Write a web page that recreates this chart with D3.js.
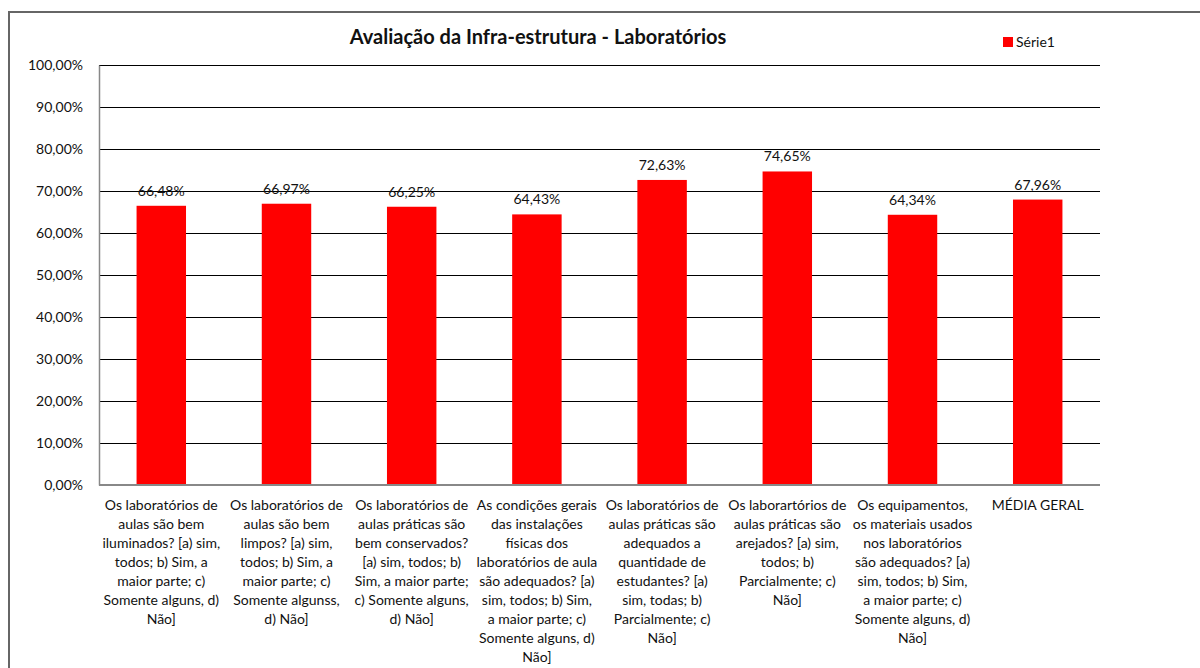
<!DOCTYPE html>
<html>
<head>
<meta charset="utf-8">
<script src="https://cdn.jsdelivr.net/npm/d3@7"></script>
<style>
  body { margin: 0; background: #fff; }
  text { font-family: Lato, "Open Sans", sans-serif; fill: #111; }
</style>
</head>
<body>
<div id="chart"></div>
<script>
// Data
var categories = [
    ["Os laboratórios de", "aulas são bem", "iluminados? [a) sim,", "todos; b) Sim,  a", "maior parte; c)", "Somente alguns, d)", "Não]"],
    ["Os laboratórios de", "aulas são bem", "limpos? [a) sim,", "todos; b) Sim,  a", "maior parte; c)", "Somente algunss,", "d) Não]"],
    ["Os laboratórios de", "aulas práticas são", "bem conservados?", "[a) sim, todos; b)", "Sim, a maior parte;", "c) Somente alguns,", "d) Não]"],
    ["As condições gerais", "das instalações", "físicas dos", "laboratórios de aula", "são adequados? [a)", "sim, todos;  b) Sim,", "a maior  parte; c)", "Somente alguns, d)", "Não]"],
    ["Os laboratórios de", "aulas práticas são", "adequados a", "quantidade de", "estudantes? [a)", "sim, todas;  b)", "Parcialmente; c)", "Não]"],
    ["Os laborartórios de", "aulas práticas são", "arejados? [a) sim,", "todos; b)", "Parcialmente; c)", "Não]"],
    ["Os equipamentos,", "os materiais  usados", "nos laboratórios", "são adequados? [a)", "sim, todos;  b) Sim,", "a maior  parte; c)", "Somente alguns, d)", "Não]"],
    ["MÉDIA GERAL"]
];
var values = [66.48, 66.97, 66.25, 64.43, 72.63, 74.65, 64.34, 67.96];
var yTicks = [0, 10, 20, 30, 40, 50, 60, 70, 80, 90, 100];
var seriesName = "Série1";
var title = "Avaliação da Infra-estrutura - Laboratórios";

var width = 1200, height = 668;
var margin = { left: 99, right: 100, top: 65, bottom: 183 };

var svg = d3.select("#chart").append("svg")
    .attr("width", width)
    .attr("height", height);

// Outer frame (right and bottom edges fall outside the picture)
svg.append("rect")
    .attr("x", 9).attr("y", 12)
    .attr("width", 1210).attr("height", 700)
    .attr("fill", "none")
    .attr("stroke", "#666")
    .attr("stroke-width", 2);

var x = d3.scaleBand()
    .domain(d3.range(values.length))
    .range([margin.left, width - margin.right])
    .paddingInner(0.605)
    .paddingOuter(0.3);

var y = d3.scaleLinear()
    .domain([0, 100])
    .range([height - margin.bottom, margin.top]);

function pct(v) {
    return d3.format(".2f")(v).replace(".", ",") + "%";
}

// Gridlines
svg.append("g")
    .selectAll("line")
    .data(yTicks.filter(d => d > 0))
    .enter()
    .append("line")
    .attr("x1", margin.left)
    .attr("x2", width - margin.right)
    .attr("y1", d => Math.round(y(d)) + 0.5)
    .attr("y2", d => Math.round(y(d)) + 0.5)
    .attr("stroke", "#000")
    .attr("stroke-width", 1);

// Y axis
var yAxis = svg.append("g")
    .attr("transform", "translate(" + margin.left + ",0)")
    .call(d3.axisLeft(y).tickValues(yTicks).tickSize(0).tickPadding(16).tickFormat(pct));
yAxis.select(".domain").attr("stroke", "#888").attr("stroke-width", 1.5);
yAxis.selectAll("text").style("font-size", "14px").attr("fill", "#111");

// Bars
svg.append("g")
    .selectAll("rect")
    .data(values)
    .enter()
    .append("rect")
    .attr("x", (d, i) => x(i))
    .attr("y", d => y(d))
    .attr("width", x.bandwidth())
    .attr("height", d => y(0) - y(d))
    .attr("fill", "#ff0000");

// Value labels
svg.append("g")
    .selectAll("text")
    .data(values)
    .enter()
    .append("text")
    .attr("x", (d, i) => x(i) + x.bandwidth() / 2)
    .attr("y", d => y(d) - 10)
    .attr("text-anchor", "middle")
    .style("font-size", "14px")
    .text(d => pct(d));

// X axis baseline
svg.append("line")
    .attr("x1", margin.left)
    .attr("x2", width - margin.right)
    .attr("y1", y(0))
    .attr("y2", y(0))
    .attr("stroke", "#888")
    .attr("stroke-width", 2);

// Category labels
svg.append("g")
    .selectAll("text")
    .data(categories)
    .enter()
    .append("text")
    .attr("text-anchor", "middle")
    .style("font-size", "14px")
    .each(function(lines, i) {
        var cx = x(i) + x.bandwidth() / 2;
        d3.select(this).selectAll("tspan")
            .data(lines)
            .enter()
            .append("tspan")
            .attr("x", cx)
            .attr("y", (d, j) => y(0) + 25 + j * 19)
            .text(d => d);
    });

// Title
svg.append("text")
    .attr("x", 538)
    .attr("y", 44)
    .attr("text-anchor", "middle")
    .style("font-size", "20px")
    .style("font-weight", "bold")
    .text(title);

// Legend
svg.append("rect")
    .attr("x", 1003).attr("y", 37)
    .attr("width", 10).attr("height", 10)
    .attr("fill", "#ff0000");
svg.append("text")
    .attr("x", 1016).attr("y", 47)
    .style("font-size", "14px")
    .text(seriesName);
</script>
</body>
</html>
